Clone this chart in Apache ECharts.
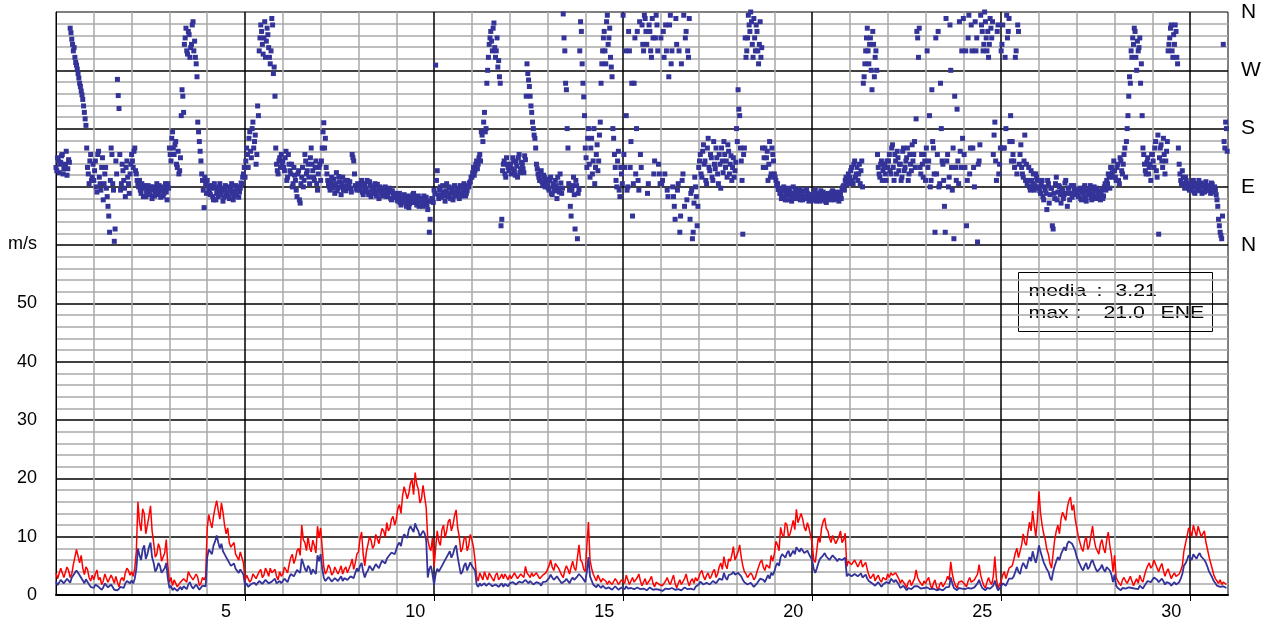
<!DOCTYPE html>
<html>
<head>
<meta charset="utf-8">
<script src="https://cdn.jsdelivr.net/npm/echarts@6/dist/echarts.min.js"></script>
<style>
html,body{margin:0;padding:0;background:#fff;}
#chart{width:1265px;height:626px;}
</style>
</head>
<body>
<div id="chart"></div>
<script>
// ---- data ----
const dayCount = 31;
const hoursPerDay = 24;   // speed: even hours + odd hours arrays; direction: on the hour + half hour

const xTickLabels = ['5', '10', '15', '20', '25', '30'];
const yTickLabels = ['0', '10', '20', '30', '40', '50'];
const dirLabels = ['N', 'E', 'S', 'W', 'N'];
const unitLabel = 'm/s';
const statMedia = '3.21';
const statMax = '21.0';
const statMaxDir = 'ENE';

// mean wind speed (m/s), even hours 0,2,...,22 of each day
const speedMeanEven = [
2.3,2.0,2.8,2.2,2.6,3.0,3.6,4.0,3.2,2.0,2.4,1.4,
1.2,2.0,1.6,1.3,1.8,1.0,1.5,1.2,0.7,1.6,2.0,2.4,
2.5,2.8,8.0,6.0,8.5,7.0,9.0,5.5,4.5,5.0,3.5,5.5,
1.2,0.8,1.0,0.6,0.9,1.4,1.8,1.5,1.2,1.6,1.0,1.3,
6.5,7.5,8.5,10.2,8.0,7.5,6.5,5.5,5.0,4.5,3.8,4.2,
1.6,1.4,1.9,2.1,1.8,2.3,2.0,2.4,2.2,2.6,2.0,2.4,
2.2,2.6,3.0,3.8,3.5,4.2,6.2,4.5,5.0,3.5,4.0,6.8,
7.0,3.0,2.6,2.8,2.5,3.0,2.7,2.4,3.0,2.5,3.5,3.8,
4.0,5.5,3.0,4.2,4.8,4.5,5.0,5.3,5.8,6.2,6.8,7.5,
7.8,9.0,9.8,10.5,11.2,11.6,12.3,11.0,10.2,10.6,3.0,5.0,
1.8,4.5,4.0,5.5,6.5,7.5,7.0,8.5,5.0,4.0,5.5,4.5,
5.0,4.2,1.4,1.6,2.0,1.5,1.8,1.3,1.9,1.6,1.4,1.8,
2.0,2.2,1.8,2.3,2.1,2.6,2.0,2.2,1.9,2.4,1.6,2.0,
2.5,3.5,2.6,3.2,2.4,1.8,2.8,2.0,3.0,2.6,3.6,3.0,
2.2,6.5,2.5,1.6,1.8,1.2,1.5,1.0,1.4,1.1,1.3,1.0,
1.2,1.5,0.9,1.3,1.0,1.4,0.8,1.2,1.0,1.3,0.7,1.1,
1.0,0.8,1.3,0.9,1.4,0.6,1.2,1.0,1.5,0.8,1.2,1.4,
1.8,2.2,1.6,2.4,2.0,2.6,2.2,3.0,3.8,2.6,3.2,4.0,
3.2,4.0,2.6,2.0,1.6,1.8,1.5,2.4,3.0,2.2,3.4,3.8,
4.0,5.5,6.5,7.0,7.2,6.6,7.6,8.2,7.4,8.0,7.2,7.0,
6.0,3.8,5.5,6.5,7.2,6.8,6.2,6.6,5.8,6.5,6.0,3.2,
3.6,3.2,3.8,3.4,3.0,3.5,2.4,2.0,1.6,2.2,1.4,2.0,
2.4,2.8,2.2,2.6,1.2,1.6,0.8,1.4,1.0,1.8,1.3,0.9,
1.0,1.5,0.8,1.3,0.6,1.2,0.9,1.6,3.0,1.2,0.8,1.0,
1.2,0.8,1.5,1.0,1.3,2.6,1.2,0.8,1.4,1.0,2.5,0.8,
1.5,2.2,1.8,2.5,3.2,4.8,3.6,5.5,4.5,6.5,7.5,5.5,
8.5,6.5,5.0,4.0,2.5,5.0,6.5,7.0,8.2,8.8,9.5,8.6,
6.5,5.2,4.2,5.5,4.8,6.0,4.5,3.8,5.2,4.0,5.0,3.5,
3.5,1.2,0.8,1.4,1.0,1.5,0.9,1.3,1.6,1.1,2.0,2.6,
2.6,3.2,2.2,2.8,1.8,2.4,1.6,2.2,1.8,2.8,5.0,6.0,
6.5,7.0,6.2,7.2,6.4,5.5,4.0,3.0,2.0,1.3,1.1,1.4
];

// mean wind speed (m/s), odd hours 1,3,...,23 of each day
const speedMeanOdd = [
1.7,2.6,2.0,2.8,2.1,3.4,4.2,3.4,2.5,2.7,1.8,1.6,
1.8,1.4,0.9,2.0,1.3,1.8,0.9,0.8,1.4,1.2,2.4,2.0,
2.0,4.5,6.8,7.8,6.2,8.2,6.5,4.0,5.5,3.8,4.6,2.8,
1.6,1.2,0.7,1.4,1.5,1.0,2.2,1.1,1.8,0.9,1.6,1.5,
7.8,7.0,9.2,9.0,8.8,7.0,6.0,5.0,5.4,4.2,4.4,3.5,
2.0,1.3,2.2,1.7,2.4,1.9,2.6,2.0,2.3,2.8,1.8,2.0,
2.8,2.2,3.6,3.2,4.3,3.8,5.4,4.0,4.6,4.4,3.6,5.8,
4.5,2.4,3.1,2.3,2.9,2.4,3.2,2.9,2.6,3.2,2.9,4.6,
5.0,4.0,3.8,5.0,4.2,5.3,4.6,5.9,5.4,6.6,7.3,7.0,
8.6,8.4,10.4,9.8,11.8,10.8,11.5,10.0,11.0,9.4,4.5,3.6,
3.6,4.0,5.0,5.8,7.0,6.4,8.0,6.5,3.6,5.0,4.2,5.6,
4.6,1.8,2.0,1.3,1.6,2.0,1.5,1.8,1.4,2.0,1.9,1.5,
1.8,2.4,1.6,2.0,2.4,2.3,2.4,1.8,2.2,2.0,2.2,2.3,
2.9,3.0,2.9,2.8,2.0,2.4,2.4,2.6,2.6,3.2,3.4,2.6,
4.0,3.2,1.8,1.3,1.5,1.6,1.1,1.3,0.9,1.5,0.9,1.3,
1.0,1.1,1.2,1.0,1.3,1.0,1.1,0.8,1.3,0.9,1.0,0.9,
0.7,1.1,1.0,1.2,0.9,1.0,0.8,1.3,1.0,1.1,0.9,1.6,
2.3,1.8,2.1,1.8,2.4,2.0,2.8,2.6,3.0,3.4,3.6,3.5,
3.8,3.2,2.2,1.8,2.1,1.4,2.0,2.8,2.6,2.8,2.8,3.4,
5.0,5.0,7.0,6.4,7.6,6.8,7.0,7.8,8.0,7.2,7.6,6.5,
4.5,4.6,6.2,6.8,6.6,6.0,6.8,6.2,6.2,6.0,6.4,3.6,
3.2,3.6,3.2,3.7,3.3,2.8,2.2,2.2,1.9,1.8,1.8,2.2,
2.0,2.5,2.6,1.8,1.5,1.2,1.2,1.0,1.5,1.5,1.1,1.2,
1.3,1.0,1.1,0.8,1.0,0.8,1.3,1.4,2.0,0.9,1.2,1.1,
1.0,1.2,1.1,1.3,2.0,1.8,0.9,1.2,1.1,1.6,1.5,1.0,
2.0,1.6,2.8,2.8,4.0,4.0,4.8,5.0,5.6,5.8,6.4,6.8,
7.4,5.6,4.4,3.0,4.0,5.8,6.0,7.6,7.6,9.2,8.8,7.6,
5.8,4.6,5.0,4.4,5.6,5.2,4.0,4.6,4.4,4.8,4.2,2.2,
1.6,1.0,1.2,1.1,1.3,1.2,1.1,1.0,1.4,1.6,2.4,2.2,
3.0,2.6,2.5,2.4,2.2,2.0,1.9,1.8,2.2,3.6,5.4,6.8,
6.0,6.6,6.8,6.6,6.0,4.8,3.5,2.4,1.6,1.4,1.5,1.2
];

// maximum gust (m/s), even hours
const speedGustEven = [
3.8,3.0,4.4,3.2,4.2,3.6,6.5,7.5,6.8,3.5,4.4,2.4,
2.6,4.3,3.0,2.4,3.4,2.0,2.8,3.2,1.4,3.0,3.8,4.2,
4.0,4.6,16.0,11.0,14.0,12.0,15.3,9.0,7.0,8.0,5.5,9.5,
2.2,1.6,2.4,1.2,2.0,3.0,4.0,3.2,2.4,3.0,2.0,2.6,
11.5,12.5,13.5,16.2,13.0,14.2,10.5,9.0,8.0,7.0,6.0,7.2,
2.4,3.2,2.6,3.8,3.0,4.4,3.4,4.0,4.6,3.6,3.2,4.0,
3.6,4.6,5.2,7.0,6.2,8.0,12.0,9.0,10.0,7.4,8.5,11.8,
11.5,4.8,4.2,4.6,3.8,4.5,4.2,3.6,4.8,4.0,6.2,5.5,
7.4,10.8,5.0,8.6,9.4,8.5,9.6,10.2,11.0,12.4,11.5,13.5,
13.0,15.5,17.0,18.5,17.5,19.8,21.0,18.2,16.5,18.5,9.5,7.6,
4.8,11.0,8.5,12.0,11.0,13.0,12.0,14.6,10.0,8.0,10.0,8.5,
9.5,6.0,2.4,3.2,4.0,2.6,3.6,2.4,3.8,3.0,2.8,3.4,
3.4,3.0,3.6,3.2,3.8,4.9,3.4,3.8,3.0,3.6,2.6,3.2,
4.0,6.0,4.2,5.5,4.0,3.0,5.0,3.6,5.8,4.2,8.6,5.6,
4.0,12.5,4.6,3.0,3.4,2.2,3.0,1.8,2.6,2.0,2.4,1.6,
2.6,3.4,1.8,3.0,2.2,3.6,1.6,2.8,2.0,3.2,1.4,2.4,
2.0,1.4,3.0,1.8,3.4,1.2,2.6,2.0,3.6,1.6,2.8,3.0,
3.0,4.2,2.6,3.8,3.2,4.4,3.6,5.5,6.6,4.5,5.8,8.3,
6.0,8.6,5.0,3.6,3.0,3.4,3.0,4.8,6.0,4.2,5.5,6.8,
7.0,8.6,11.6,10.0,12.0,10.5,12.8,14.7,12.5,13.0,11.0,11.5,
9.0,5.6,10.0,11.5,13.2,11.0,9.0,10.5,8.6,11.0,9.5,4.9,
6.0,5.0,6.2,5.4,4.8,5.6,3.4,3.0,2.4,3.4,2.2,3.0,
3.6,3.8,3.2,3.6,2.0,2.8,1.2,2.6,1.8,4.3,2.4,1.6,
2.0,3.0,1.0,2.6,0.8,2.2,1.6,3.2,5.7,2.4,1.2,2.0,
2.6,1.4,3.0,2.0,2.8,5.2,2.4,1.2,3.0,1.8,6.6,1.2,
2.4,4.0,3.0,4.3,6.0,8.0,6.5,10.5,8.5,12.5,14.4,10.0,
17.8,12.0,9.5,7.0,4.6,9.5,12.0,13.0,14.5,15.0,16.8,15.5,
11.5,9.0,7.5,10.0,8.5,11.8,8.2,7.0,9.5,7.2,10.8,6.8,
6.8,2.4,1.6,3.0,2.0,3.2,1.6,2.8,3.4,2.2,4.3,5.5,
5.0,5.8,4.0,5.4,3.2,4.5,2.8,3.8,3.0,4.2,7.5,10.0,
11.0,12.0,10.0,11.5,10.5,9.0,6.5,4.5,2.8,2.0,1.8,2.4
];

// maximum gust (m/s), odd hours
const speedGustOdd = [
2.8,4.6,3.0,4.8,3.0,5.2,7.8,5.5,4.6,4.8,3.0,3.4,
3.6,2.6,1.8,3.6,2.2,3.4,2.0,2.2,2.6,2.4,4.6,3.4,
3.2,7.5,12.5,14.8,10.5,13.5,11.0,6.5,8.8,5.8,7.2,5.0,
3.0,2.6,1.4,2.2,2.8,2.2,3.4,2.6,3.6,1.6,3.0,3.2,
13.8,11.5,15.0,14.5,15.8,12.0,11.5,8.2,9.0,6.5,7.4,5.5,
3.4,2.2,3.6,2.8,4.0,3.0,4.6,3.2,3.8,4.4,2.6,3.2,
4.8,3.8,6.4,5.4,7.6,6.8,9.5,7.6,8.2,9.4,7.2,9.8,
8.0,3.6,5.2,3.4,4.8,3.6,5.0,4.4,3.8,5.2,4.4,7.0,
9.6,7.0,7.4,10.0,8.0,10.4,8.8,11.4,10.0,11.0,13.0,12.0,
14.8,14.0,18.6,16.5,19.2,17.2,19.0,15.8,18.8,15.0,8.2,9.8,
8.0,9.2,11.2,9.8,12.6,11.0,13.6,11.5,7.4,9.6,7.6,10.4,
8.2,3.2,3.8,2.6,3.2,3.8,2.8,3.4,2.6,3.6,3.6,2.6,
2.8,3.8,2.8,3.6,3.0,3.8,3.0,3.2,3.8,2.8,3.4,3.8,
5.0,4.8,5.4,4.6,3.4,4.2,4.4,4.8,4.6,6.4,6.0,4.4,
8.5,6.0,3.6,2.4,2.8,2.8,2.4,2.4,1.8,2.8,1.8,2.6,
2.0,2.6,2.4,2.2,3.0,2.4,2.2,1.8,2.6,2.0,2.2,1.8,
1.6,2.4,2.2,2.6,2.0,2.0,1.8,2.8,2.4,2.4,2.0,2.4,
3.8,3.2,3.4,2.8,4.0,3.0,4.8,4.4,5.2,6.2,6.8,6.0,
7.4,6.5,4.0,3.0,3.8,2.6,4.0,5.6,4.8,5.2,4.6,5.8,
9.2,7.6,10.4,12.4,10.0,11.6,11.2,12.4,14.0,11.6,12.4,10.2,
6.0,7.8,9.0,12.6,11.4,9.8,10.2,8.8,10.0,9.0,10.6,5.8,
5.2,6.0,4.8,6.0,5.2,4.4,2.8,3.6,3.0,2.6,3.0,2.6,
3.0,3.4,3.8,2.8,2.6,1.8,2.2,1.6,2.8,3.0,2.0,2.4,
2.6,1.8,2.0,1.4,1.8,1.4,2.4,2.6,3.6,1.6,2.2,2.4,
1.8,2.4,2.2,2.6,3.6,3.4,1.6,2.2,2.2,3.2,2.8,1.8,
3.4,2.8,4.6,5.0,7.2,6.4,8.6,9.0,10.8,11.0,12.0,13.0,
14.0,10.5,7.8,5.4,7.2,11.0,10.5,14.2,12.8,16.2,14.5,13.0,
10.0,8.0,9.2,7.8,10.2,9.6,7.6,8.8,8.0,9.4,8.4,4.0,
3.0,2.0,2.6,2.4,2.6,2.4,2.2,2.0,2.6,3.4,5.0,4.6,
6.0,4.6,4.8,4.2,4.0,3.6,3.4,3.2,3.6,5.0,8.8,11.5,
10.0,11.0,11.8,10.0,11.0,7.8,5.5,3.4,2.4,2.6,2.2,1.8
];

// wind direction (degrees, 0 = N, 90 = E ...), on the hour
const dirDeg = [
120,135,112,128,140,118,125,108,132,335,318,300,290,278,265,250,238,225,205,185,120,95,140,105,
100,130,82,145,95,120,70,110,88,60,20,150,95,6,130,256,211,85,125,100,75,130,95,110,
140,120,150,110,95,100,80,88,92,75,85,82,90,72,86,80,95,78,84,90,76,88,82,95,
150,130,175,140,160,120,110,135,240,205,320,300,330,290,310,345,315,280,190,160,130,100,58,95,
100,85,78,92,70,88,80,75,95,82,68,86,78,90,72,84,80,76,92,85,74,88,95,110,
105,150,120,175,135,190,160,125,215,300,340,310,320,290,335,305,280,350,265,230,125,110,135,140,
130,115,145,105,125,110,90,120,100,75,115,65,105,90,140,110,125,95,150,115,100,130,85,120,
100,150,189,165,110,95,85,105,92,80,112,88,98,78,105,90,84,100,95,88,140,130,92,85,
92,85,100,78,95,88,82,98,75,90,86,80,94,72,88,84,78,90,75,82,86,70,80,76,
75,68,80,62,72,78,65,70,58,74,66,80,70,62,76,68,72,60,66,74,55,20,68,72,
85,278,115,72,90,78,82,68,95,75,88,80,70,92,78,85,72,88,80,95,76,84,90,98,
105,120,115,130,125,140,175,160,205,180,270,310,330,300,343,290,320,285,250,40,125,110,135,120,
120,110,135,115,128,105,140,118,125,112,132,280,255,230,205,180,165,125,110,100,115,92,105,98,
95,85,105,78,90,100,72,88,110,80,357,300,240,150,85,45,92,78,100,10,86,345,280,229,
150,120,180,105,165,130,95,140,115,170,250,300,330,280,355,320,290,260,165,120,90,145,75,110,
355,120,200,90,300,160,45,250,110,330,85,140,340,300,350,310,95,330,290,320,130,355,300,110,
320,100,290,340,85,260,355,300,75,40,310,95,20,280,110,60,330,300,350,80,10,65,90,30,
120,140,105,155,130,95,165,115,135,100,125,150,110,140,88,130,160,120,105,145,125,100,135,115,
180,240,200,130,17,150,290,320,340,360,310,350,300,330,280,345,305,120,150,135,100,160,110,140,
110,100,95,88,80,75,90,70,85,78,82,68,90,76,80,72,86,78,70,84,74,80,68,76,
78,70,85,72,80,68,76,82,74,66,80,72,78,84,70,76,82,68,78,86,92,100,95,110,
105,120,95,130,110,100,125,115,90,260,300,335,280,320,240,310,290,270,120,105,130,115,125,100,
120,140,110,155,100,130,145,115,125,105,150,120,135,100,140,115,130,160,195,320,335,110,125,140,
100,300,130,90,240,150,20,110,330,95,180,125,60,350,140,105,270,85,10,120,210,95,145,300,
350,120,30,320,110,340,150,90,300,5,130,355,330,310,345,300,290,350,320,140,190,100,340,125,
300,340,150,180,320,350,200,160,130,290,110,330,140,120,105,170,125,100,90,115,95,85,110,100,
90,80,100,70,85,55,95,78,88,25,72,105,82,90,65,84,78,100,60,88,80,74,92,86,
82,75,88,70,80,92,68,78,85,74,80,90,72,84,78,70,86,76,95,100,110,88,120,105,
115,100,125,95,130,110,140,105,180,230,250,290,310,330,270,300,320,280,150,125,110,135,120,100,
140,120,160,105,17,150,130,165,110,145,300,320,340,290,310,330,280,125,100,115,95,105,90,88,
92,85,100,80,95,88,84,96,90,82,98,86,90,80,94,88,85,70,40,20,10,310,150,180
];

// wind direction (degrees), on the half hour
const dirDegHalf = [
115,130,125,138,110,122,145,118,128,328,310,305,282,272,258,245,232,215,195,150,110,130,100,125,
115,90,140,105,85,135,95,120,75,45,100,140,85,25,110,231,140,95,115,88,120,105,80,125,
130,145,115,100,90,85,95,75,88,80,92,78,85,90,76,84,88,92,74,86,80,95,70,88,
140,165,150,155,125,145,115,200,230,310,335,295,325,305,340,300,290,260,175,145,110,85,105,80,
92,80,88,75,95,70,85,90,78,88,74,92,82,76,88,95,70,84,78,90,82,96,105,120,
130,140,165,145,180,150,170,140,200,320,330,295,345,315,325,290,300,340,275,150,115,130,120,125,
120,135,100,140,115,125,95,108,85,110,70,95,120,100,130,115,105,135,125,105,120,95,110,125,
130,175,150,120,100,90,98,88,102,95,84,106,90,96,85,100,92,88,98,82,135,110,88,95,
88,95,82,90,84,100,78,92,86,80,95,76,84,90,80,76,86,82,78,88,72,84,74,80,
70,76,66,74,68,72,60,76,64,70,78,66,74,68,60,72,64,76,70,62,68,40,72,66,
80,100,78,86,74,92,76,84,80,90,72,86,82,76,88,80,92,76,84,88,80,92,96,105,
112,108,125,118,135,130,170,190,175,250,290,320,315,335,305,300,275,260,30,115,130,105,125,115,
125,118,130,108,122,135,112,128,118,138,230,265,245,215,190,170,150,118,105,112,98,108,90,102,
88,100,80,95,84,92,105,82,96,88,320,250,180,95,60,85,105,25,92,80,300,330,250,200,
135,165,125,150,110,180,120,155,130,190,280,320,300,345,310,335,275,180,140,100,130,85,120,95,
140,300,85,330,120,250,95,320,180,100,345,120,310,355,330,80,340,300,350,110,320,340,125,95,
95,330,110,300,75,340,280,90,60,350,85,300,45,100,355,320,70,290,40,85,20,105,75,60,
130,110,145,125,100,150,120,140,105,160,118,135,95,125,150,112,140,130,155,110,138,120,105,128,
160,210,150,100,140,320,300,355,330,345,290,320,340,300,310,290,150,135,120,145,125,105,150,130,
105,92,86,80,72,84,76,82,70,88,74,80,72,86,76,82,70,80,76,72,86,74,78,70,
74,80,68,78,72,84,70,78,68,76,74,70,82,76,80,72,74,80,72,90,85,105,100,95,
115,100,125,105,120,110,95,130,250,280,320,300,310,270,330,260,300,140,110,125,100,120,110,130,
130,115,150,120,140,110,135,125,100,145,115,130,150,110,125,155,140,120,330,290,120,140,105,130,
150,120,200,100,160,110,320,140,90,250,130,100,20,130,90,340,120,150,230,100,130,345,120,165,
140,300,100,355,150,300,120,345,320,125,155,340,300,360,320,330,310,335,345,170,130,330,110,150,
310,150,290,355,330,160,130,140,120,300,340,125,155,110,130,100,95,120,85,100,110,92,105,88,
84,95,75,90,80,100,65,88,30,80,95,70,92,78,85,72,96,80,88,70,92,80,86,78,
78,86,72,82,88,74,84,80,92,70,84,76,88,80,74,82,72,90,85,95,105,120,112,130,
105,120,100,135,115,125,150,160,200,260,300,320,335,290,315,305,250,200,140,115,128,110,125,140,
130,150,115,170,135,155,120,140,130,160,310,335,300,325,340,290,150,110,95,105,88,100,95,85,
88,95,82,90,86,100,92,80,94,88,84,92,86,96,82,90,78,60,30,15,45,160,190,145
];

// ---- build ----
function interleave(even, odd) {
  const out = [];
  for (let k = 0; k < even.length; k++) {
    out.push([(2 * k) / hoursPerDay, even[k]]);
    out.push([(2 * k + 1) / hoursPerDay, odd[k]]);
  }
  return out;
}
const meanData = interleave(speedMeanEven, speedMeanOdd);
const gustData = interleave(speedGustEven, speedGustOdd);
const dirData = dirDeg.map((v, i) => [i / hoursPerDay, v])
  .concat(dirDegHalf.map((v, i) => [(i + 0.5) / hoursPerDay, v]));

const xLabelValues = xTickLabels.map(s => Number(s) - 0.5);
const xTickValues = xTickLabels.map(s => Number(s));
const yLabelValues = yTickLabels.map(s => Number(s));
const dirValues = dirLabels.map((s, i) => i * 90);

const BLUE = '#333399';
const RED = '#ff0000';
const FONT = '"Liberation Sans", Arial, sans-serif';
const majorColor = '#000000';
const minorColor = '#a8a8a8';
// first drawn split line is the 1st minor one (min line hidden): 4 minor then 1 major
const gridColors = [minorColor, minorColor, minorColor, minorColor, majorColor];

const chart = echarts.init(document.getElementById('chart'), null, {renderer: 'canvas'});

const boxFont = '17px ' + FONT;
const boxText = (txt, x, y) => ({
  type: 'text', x: x, y: y, scaleX: 1.25,
  style: {text: txt, fill: '#000', font: boxFont}
});

chart.setOption({
  animation: false,
  backgroundColor: '#ffffff',
  grid: {
    left: 56, right: 37, top: 12, bottom: 31,
    show: true, borderColor: '#000', borderWidth: 1, backgroundColor: '#fff'
  },
  xAxis: [
    {
      // grid lines: one per day, black every 5 days
      type: 'value', min: 0, max: dayCount, interval: 1, position: 'bottom',
      axisLine: {show: true, onZero: false, lineStyle: {color: '#000', width: 2}},
      axisTick: {show: false},
      axisLabel: {show: false},
      splitLine: {
        show: true, showMinLine: false, showMaxLine: false,
        lineStyle: {color: gridColors, width: 1.5}
      }
    },
    {
      // day labels (centred in the day) and ticks
      type: 'value', min: 0, max: dayCount, position: 'bottom',
      axisLine: {show: false, onZero: false},
      axisTick: {show: true, customValues: xTickValues, length: 6, lineStyle: {color: '#000'}},
      axisLabel: {
        show: true, customValues: xLabelValues,
        formatter: v => String(Math.round(v + 0.5)),
        color: '#000', fontSize: 18, fontFamily: FONT, margin: 8
      },
      splitLine: {show: false}
    }
  ],
  yAxis: [
    {
      type: 'value', min: 0, max: 100, interval: 2,
      axisLine: {show: true, lineStyle: {color: '#000', width: 1}},
      axisTick: {show: false},
      axisLabel: {
        show: true, customValues: yLabelValues,
        formatter: v => String(v),
        color: '#000', fontSize: 18, fontFamily: FONT, margin: 19
      },
      splitLine: {
        show: true, showMinLine: false, showMaxLine: false,
        lineStyle: {color: gridColors, width: 1.5}
      }
    },
    {
      type: 'value', min: -540, max: 360, interval: 90, position: 'right',
      axisLine: {show: false}, axisTick: {show: false}, splitLine: {show: false},
      axisLabel: {
        show: true, customValues: dirValues,
        formatter: v => dirLabels[Math.round(v / 90)],
        color: '#000', fontSize: 21, fontFamily: FONT, margin: 13
      }
    }
  ],
  series: [
    {
      name: 'gust', type: 'line', data: gustData, xAxisIndex: 0, yAxisIndex: 0,
      showSymbol: false, symbol: 'none', lineStyle: {color: RED, width: 1.5}, z: 3
    },
    {
      name: 'mean', type: 'line', data: meanData, xAxisIndex: 0, yAxisIndex: 0,
      showSymbol: false, symbol: 'none', lineStyle: {color: BLUE, width: 1.8}, z: 4
    },
    {
      name: 'direction', type: 'scatter', data: dirData, xAxisIndex: 0, yAxisIndex: 1,
      symbol: 'rect', symbolSize: 5, itemStyle: {color: BLUE, opacity: 1}, z: 5
    }
  ],
  graphic: [
    {
      type: 'text', left: 8, top: 235, z: 10,
      style: {text: unitLabel, fill: '#000', font: '18px ' + FONT}
    },
    {
      type: 'group', left: 1018, top: 272, z: 20,
      children: [
        {type: 'rect', shape: {x: 0, y: 0, width: 194, height: 59},
         style: {fill: '#fff', stroke: '#000', lineWidth: 1}},
        boxText('media', 10, 10),
        boxText(':', 78, 10),
        boxText(statMedia, 97, 10),
        boxText('max', 10, 32),
        boxText(':', 57, 32),
        boxText(statMax, 85, 32),
        boxText(statMaxDir, 142, 32)
      ]
    }
  ]
});
</script>
</body>
</html>
